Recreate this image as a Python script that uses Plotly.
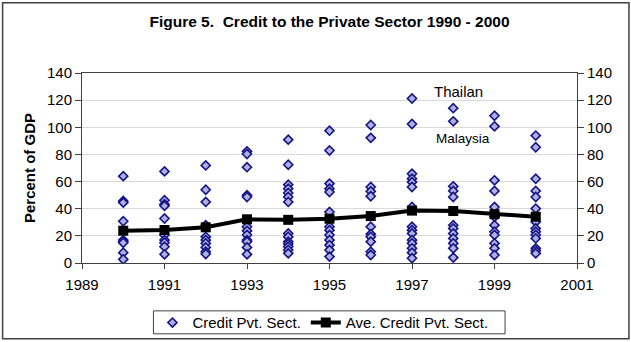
import plotly.graph_objects as go

# ---------------- data ----------------
years = [1990, 1991, 1992, 1993, 1994, 1995, 1996, 1997, 1998, 1999, 2000]

credit_1990 = [64.0, 45.7, 44.5, 30.8, 16.9, 15.7, 14.9, 7.6, 2.7]
credit_1991 = [67.5, 46.2, 43.3, 42.1, 32.8, 20.6, 16.9, 14.9, 12.0, 6.4]
credit_1992 = [71.9, 54.0, 45.0, 27.9, 19.3, 16.9, 14.5, 11.5, 8.3, 6.6]
credit_1993 = [82.3, 80.3, 70.6, 49.9, 48.6, 26.7, 23.7, 20.6, 16.9, 15.7, 11.5, 6.4]
credit_1994 = [90.9, 72.4, 57.7, 54.8, 51.6, 48.6, 45.0, 21.8, 19.3, 15.7, 14.0, 12.0, 9.6, 7.1]
credit_1995 = [97.5, 82.9, 58.5, 54.8, 52.3, 37.6, 26.7, 24.2, 20.6, 16.9, 13.2, 9.6, 4.7]
credit_1996 = [101.7, 92.2, 56.0, 52.8, 49.2, 26.7, 21.3, 19.3, 15.7, 8.3, 5.9]
credit_1997 = [121.2, 102.4, 65.8, 62.1, 59.6, 56.0, 41.3, 26.7, 24.2, 21.8, 16.9, 14.5, 10.8, 7.6, 3.5]
credit_1998 = [114.1, 104.4, 56.5, 53.1, 48.6, 27.9, 25.5, 21.8, 18.1, 14.5, 10.8, 4.0]
credit_1999 = [108.5, 100.7, 60.9, 53.1, 41.3, 34.0, 27.9, 23.0, 20.6, 14.5, 10.8, 5.9]
credit_2000 = [93.9, 85.3, 62.1, 53.1, 48.6, 40.1, 30.3, 25.5, 23.0, 20.6, 18.1, 10.8, 9.1, 7.1]

average_credit = [23.8, 24.3, 26.3, 32.2, 31.8, 32.6, 34.6, 38.6, 38.3, 36.0, 34.1]

y_ticks = [0, 20, 40, 60, 80, 100, 120, 140]
x_ticks = [1989, 1991, 1993, 1995, 1997, 1999, 2001]

title_text = "Figure 5.  Credit to the Private Sector 1990 - 2000"
y_title = "Percent of GDP"
scatter_name = "Credit Pvt. Sect."
avg_name = "Ave. Credit Pvt. Sect."

# ---------------- build ----------------
per_year = [credit_1990, credit_1991, credit_1992, credit_1993, credit_1994, credit_1995,
            credit_1996, credit_1997, credit_1998, credit_1999, credit_2000]
sx, sy = [], []
for yr, vals in zip(years, per_year):
    sx += [yr] * len(vals)
    sy += vals

W, H = 631, 342
ML, MR, MT, MB = 81.5, 54, 72.5, 79
FONT = "Liberation Sans, Arial, sans-serif"
AXC = "#404040"
FS = 15
pw, ph = W - ML - MR, H - MT - MB


def px_x(x):
    return (x - ML) / pw


def px_y(y):
    return (H - MB - y) / ph


fig = go.Figure()
fig.add_trace(go.Scatter(
    x=sx, y=sy, mode="markers", name=scatter_name,
    marker=dict(symbol="diamond", size=7, color="#b0b0dc",
                line=dict(color="#141488", width=1.6)),
))
fig.add_trace(go.Scatter(
    x=years, y=average_credit, mode="lines+markers", name=avg_name,
    line=dict(color="black", width=4),
    marker=dict(symbol="square", size=10, color="black"),
))
# invisible trace on right axis
fig.add_trace(go.Scatter(x=[years[0]], y=[0], yaxis="y2", mode="markers",
                         marker=dict(opacity=0), showlegend=False, hoverinfo="skip"))

fig.update_layout(
    width=W, height=H,
    margin=dict(l=ML, r=MR, t=MT, b=MB, pad=0, autoexpand=False),
    paper_bgcolor="white", plot_bgcolor="white",
    font=dict(family=FONT, size=FS, color="black"),
    title=dict(text="<b>" + title_text + "</b>", x=0.5, xref="paper", xanchor="center",
               y=1 - 22 / H, yanchor="middle", font=dict(size=15.5, family=FONT)),
    xaxis=dict(range=[x_ticks[0], x_ticks[-1]], tickvals=x_ticks, showgrid=False,
               showline=True, linecolor=AXC, linewidth=1, mirror=True,
               ticks="outside", ticklen=5, tickcolor=AXC, zeroline=False,
               ticklabelstandoff=3),
    yaxis=dict(range=[y_ticks[0], y_ticks[-1]], tickvals=y_ticks, showgrid=True,
               gridcolor="#d9d9d9", gridwidth=1, showline=True, linecolor=AXC,
               linewidth=1, ticks="outside", ticklen=6, tickcolor=AXC, zeroline=False,
               title=dict(text="<b>" + y_title + "</b>", font=dict(size=FS), standoff=7)),
    yaxis2=dict(range=[y_ticks[0], y_ticks[-1]], tickvals=y_ticks, overlaying="y",
                side="right", showgrid=False, showline=True, linecolor=AXC, linewidth=1,
                ticks="outside", ticklen=6, tickcolor=AXC, zeroline=False),
    legend=dict(orientation="h", x=px_x(152), xanchor="left", y=px_y(323),
                yanchor="middle", borderwidth=0, font=dict(size=FS),
                itemwidth=30, bgcolor="rgba(0,0,0,0)"),
    showlegend=True,
)

fig.add_annotation(text="Thailan", x=px_x(458), y=px_y(91), xref="paper", yref="paper",
                   xanchor="center", yanchor="middle", showarrow=False, font=dict(size=15))
fig.add_annotation(text="Malaysia", x=px_x(463), y=px_y(138), xref="paper", yref="paper",
                   xanchor="center", yanchor="middle", showarrow=False, font=dict(size=13.5))

# legend frame
fig.add_shape(type="rect", xref="paper", yref="paper",
              x0=px_x(153), x1=px_x(505), y0=px_y(334), y1=px_y(311),
              line=dict(color="#404040", width=1), fillcolor="rgba(0,0,0,0)")
# outer chart border
fig.add_shape(type="rect", xref="paper", yref="paper",
              x0=px_x(2), x1=px_x(629), y0=px_y(339), y1=px_y(2),
              line=dict(color="#404040", width=1.5), fillcolor="rgba(0,0,0,0)", layer="below")

fig.write_html("out.html")
